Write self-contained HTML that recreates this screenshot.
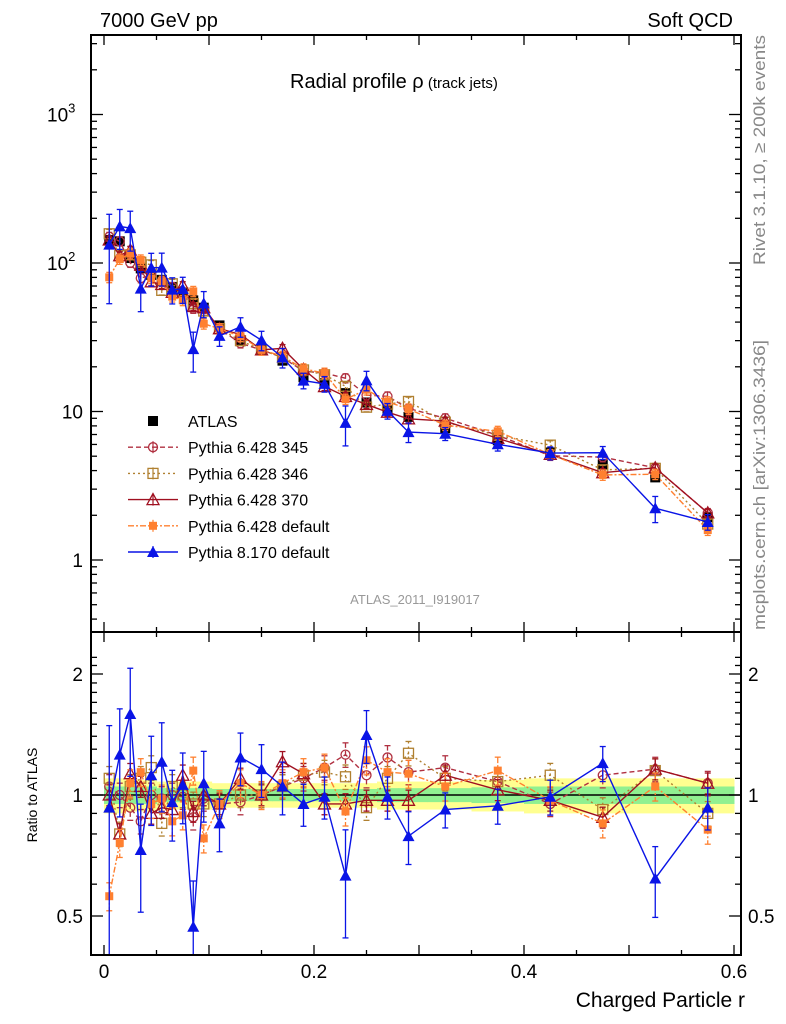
<!DOCTYPE html>
<html><head><meta charset="utf-8"><style>
html,body{margin:0;padding:0;background:#fff;width:786px;height:1024px;overflow:hidden}
svg{display:block;font-family:"Liberation Sans",sans-serif}
</style></head><body>
<svg id="chart" width="786" height="1024" viewBox="0 0 786 1024"></svg>
<script>
const rVals=[0.005,0.015,0.025,0.035,0.045,0.055,0.065,0.075,0.085,0.095,0.11,0.13,0.15,0.17,0.19,0.21,0.23,0.25,0.27,0.29,0.325,0.375,0.425,0.475,0.525,0.575];
const atlas=[143,140,108,92,83,77,69,63,56,50,38,30,26,22,17,15.5,13.3,11.5,10.2,9.2,7.7,6.4,5.3,4.4,3.6,1.94];
const ratio345=[1.05,1.0,0.93,0.86,1.0,0.98,1.0,0.99,0.88,0.98,0.95,0.96,1.0,1.05,1.1,1.17,1.26,1.12,1.24,1.14,1.17,1.08,0.95,1.12,1.16,1.07];
const ratio346=[1.1,0.8,1.05,1.1,1.17,0.85,1.05,1.0,0.95,0.95,0.95,1.0,1.0,1.05,1.12,1.14,1.11,0.93,1.1,1.27,1.1,1.08,1.12,0.92,1.15,0.9];
const ratio370=[1.0,0.8,1.13,1.05,0.9,0.93,0.92,1.12,0.91,1.0,0.95,1.1,1.0,1.21,1.13,0.95,0.95,0.97,0.97,0.97,1.12,1.03,0.97,0.88,1.16,1.07];
const ratioP6def=[0.56,0.76,1.07,1.14,0.95,0.98,0.86,0.89,1.15,0.78,0.95,1.07,1.0,1.07,1.14,1.17,0.91,1.22,1.14,1.13,1.05,1.15,0.97,0.85,1.05,0.82];
const ratioP8=[0.93,1.26,1.59,0.73,1.12,1.21,0.96,1.06,0.47,1.07,0.85,1.24,1.16,1.05,0.95,0.99,0.63,1.41,0.99,0.79,0.92,0.94,0.99,1.2,0.62,0.93];
const errP8=[0.6,0.3,0.3,0.3,0.25,0.25,0.2,0.2,0.3,0.2,0.15,0.15,0.15,0.15,0.12,0.12,0.3,0.15,0.12,0.15,0.1,0.1,0.1,0.1,0.2,0.12];
const bandYellow=[0.1,0.1,0.09,0.09,0.09,0.08,0.08,0.08,0.08,0.08,0.07,0.07,0.07,0.07,0.07,0.07,0.07,0.07,0.08,0.08,0.08,0.09,0.1,0.1,0.1,0.1];
const bandGreen=[0.05,0.05,0.05,0.05,0.05,0.04,0.04,0.04,0.04,0.04,0.035,0.035,0.035,0.035,0.035,0.035,0.035,0.035,0.04,0.04,0.04,0.045,0.05,0.05,0.05,0.05];
const xTicks=[0,0.2,0.4,0.6];

const NS="http://www.w3.org/2000/svg";
const svg=document.getElementById('chart');
const L=91,R=741,T1=35,B1=632,B2=955;
const X=r=>104+r*1050;
const Ym=v=>560-Math.log10(v)*148.5;
const Yr=v=>795-Math.log2(v)*121;
function el(tag,attrs,parent){const e=document.createElementNS(NS,tag);for(const k in attrs)e.setAttribute(k,attrs[k]);(parent||svg).appendChild(e);return e;}
function txt(x,y,s,size,attrs,parent){const t=el('text',Object.assign({x:x,y:y,'font-size':size},attrs||{}),parent);t.textContent=s;return t;}

const defs=el('defs',{});
const c1=el('clipPath',{id:'c1'},defs);el('rect',{x:L,y:T1,width:R-L,height:B1-T1},c1);
const c2=el('clipPath',{id:'c2'},defs);el('rect',{x:L,y:B1,width:R-L,height:B2-B1},c2);

const bands=el('g',{'clip-path':'url(#c2)'});


function edges(i){const lo=i==0?0:(rVals[i-1]+rVals[i])/2;const hi=i==rVals.length-1?0.6:(rVals[i]+rVals[i+1])/2;return [lo,hi];}
for(let i=0;i<rVals.length;i++){const [a,b]=edges(i);
 el('rect',{x:X(a),y:Yr(1+bandYellow[i]),width:X(b)-X(a)+0.5,height:Yr(1-bandYellow[i])-Yr(1+bandYellow[i]),fill:'#ffff90'},bands);}
for(let i=0;i<rVals.length;i++){const [a,b]=edges(i);
 el('rect',{x:X(a),y:Yr(1+bandGreen[i]),width:X(b)-X(a)+0.5,height:Yr(1-bandGreen[i])-Yr(1+bandGreen[i]),fill:'#90f090'},bands);}
el('line',{x1:L,x2:R,y1:Yr(1),y2:Yr(1),stroke:'#000','stroke-width':1.5},bands);

const series=[
 {name:'pythia6-345',ratio:ratio345,color:'#b03040',dash:'5,3',marker:'circle',err:0.07,label:'Pythia 6.428 345'},
 {name:'pythia6-346',ratio:ratio346,color:'#b08030',dash:'2,3',marker:'osquare',err:0.07,label:'Pythia 6.428 346'},
 {name:'pythia6-370',ratio:ratio370,color:'#a01020',dash:'',marker:'otri',err:0.06,label:'Pythia 6.428 370'},
 {name:'pythia6-default',ratio:ratioP6def,color:'#ff8030',dash:'6,2,2,2',marker:'fsquare',err:0.08,label:'Pythia 6.428 default'},
 {name:'pythia8-default',ratio:ratioP8,color:'#0a14e6',dash:'',marker:'ftri',err:null,label:'Pythia 8.170 default'}
];
function marker(m,x,y,color,g){
 if(m==='circle')return el('circle',{cx:x,cy:y,r:4.5,fill:'none',stroke:color,'stroke-width':1.3},g);
 if(m==='osquare')return el('rect',{x:x-5,y:y-5,width:10,height:10,fill:'none',stroke:color,'stroke-width':1.3},g);
 if(m==='fsquare')return el('rect',{x:x-4,y:y-4,width:8,height:8,fill:color},g);
 if(m==='bsquare')return el('rect',{x:x-5,y:y-5,width:10,height:10,fill:'#000'},g);
 if(m==='otri')return el('polygon',{points:`${x},${y-6} ${x-6},${y+5} ${x+6},${y+5}`,fill:'none',stroke:color,'stroke-width':1.3},g);
 if(m==='ftri')return el('polygon',{points:`${x},${y-6} ${x-6},${y+5} ${x+6},${y+5}`,fill:color},g);
}
function drawSeries(s,panel){
 const g=el('g',{'clip-path':panel==='main'?'url(#c1)':'url(#c2)'});
 
 
 const ys=rVals.map((r,i)=>panel==='main'?Ym(atlas[i]*s.ratio[i]):Yr(s.ratio[i]));
 const pts=rVals.map((r,i)=>X(r)+','+ys[i]).join(' ');
 const line=el('polyline',{points:pts,fill:'none',stroke:s.color,'stroke-width':1.4,'stroke-dasharray':s.dash},g);
 
 
 for(let i=0;i<rVals.length;i++){
  const e=s.err===null?errP8[i]:s.err;
  const v=panel==='main'?atlas[i]*s.ratio[i]:s.ratio[i];
  const f=panel==='main'?Ym:Yr;
  const y1=f(v*(1+e)),y2=f(Math.max(v*(1-e),0.01));
  const x=X(rVals[i]);
  el('line',{x1:x,x2:x,y1:y1,y2:y2,stroke:s.color,'stroke-width':1.3,'stroke-dasharray':s.dash},g);
  el('line',{x1:x-3,x2:x+3,y1:y1,y2:y1,stroke:s.color,'stroke-width':1.3},g);
  el('line',{x1:x-3,x2:x+3,y1:y2,y2:y2,stroke:s.color,'stroke-width':1.3},g);
  const m=marker(s.marker,x,ys[i],s.color,g);
  
  
 }
}
const ag=el('g',{'clip-path':'url(#c1)'});


for(let i=0;i<rVals.length;i++){const m=marker('bsquare',X(rVals[i]),Ym(atlas[i]),'#000',ag);
 
 }
series.forEach(s=>{drawSeries(s,'main');drawSeries(s,'ratio');});

const f1=el('rect',{x:L,y:T1,width:R-L,height:B1-T1,fill:'none',stroke:'#000','stroke-width':2});

const f2=el('rect',{x:L,y:B1,width:R-L,height:B2-B1,fill:'none',stroke:'#000','stroke-width':2});


const tg=el('g',{stroke:'#000','stroke-width':1.3});

for(let k=0;k<=12;k++){const r=k*0.05;const x=X(r);const len=(k%2==0)?10:5;
 [[T1,1],[B1,-1],[B1,1],[B2,-1]].forEach(([y,d])=>el('line',{x1:x,x2:x,y1:y,y2:y+d*len},tg));}
xTicks.forEach(t=>{const l=txt(X(t),978,t===0?'0':String(t),19,{'text-anchor':'middle'});
 });

const yg=el('g',{stroke:'#000','stroke-width':1.3});

for(let d=-1;d<=3;d++)for(let m=1;m<=9;m++){const v=m*Math.pow(10,d);const y=Ym(v);if(y<T1||y>B1)continue;
 const len=m===1?12:6;el('line',{x1:L,x2:L+len,y1:y,y2:y},yg);el('line',{x1:R,x2:R-len,y1:y,y2:y},yg);}
[[1000,'10','3'],[100,'10','2'],[10,'10',''],[1,'1','']].forEach(([v,b,e])=>{
 const t=txt(83,Ym(v)+7,b,19,{'text-anchor':e?'start':'end'});
 if(e){t.setAttribute('x',47);const ts=document.createElementNS(NS,'tspan');ts.setAttribute('dy','-9');ts.setAttribute('font-size','13');ts.textContent=e;t.appendChild(ts);}
 });
const rg=el('g',{stroke:'#000','stroke-width':1.3});

for(let k=4;k<=22;k++){const v=k/10;const y=Yr(v);if(y<B1||y>B2)continue;
 const len=(k===5||k===10||k===20)?12:6;el('line',{x1:L,x2:L+len,y1:y,y2:y},rg);el('line',{x1:R,x2:R-len,y1:y,y2:y},rg);}
[[2,'2'],[1,'1'],[0.5,'0.5']].forEach(([v,s])=>{
 const a=txt(83,Yr(v)+7,s,19,{'text-anchor':'end'});
 const b=txt(748,Yr(v)+7,s,19,{'text-anchor':'start'});});

let t;
t=txt(100,27,'7000 GeV pp',20);
t=txt(733,27,'Soft QCD',20,{'text-anchor':'end'});
t=txt(290,88,'Radial profile ',20);const ts1=document.createElementNS(NS,'tspan');ts1.textContent='ρ';t.appendChild(ts1);
const ts2=document.createElementNS(NS,'tspan');ts2.setAttribute('font-size','15');ts2.textContent=' (track jets)';t.appendChild(ts2);

t=txt(415,604,'ATLAS_2011_I919017',13,{'text-anchor':'middle',fill:'#999'});
t=txt(745,1007,'Charged Particle r',21,{'text-anchor':'end'});
t=txt(0,0,'Ratio to ATLAS',14,{transform:'translate(37,795) rotate(-90)','text-anchor':'middle'});
t=txt(0,0,'Rivet 3.1.10, ≥ 200k events',17,{transform:'translate(765,265) rotate(-90)',fill:'#888',textLength:230,lengthAdjust:'spacingAndGlyphs'});
t=txt(0,0,'mcplots.cern.ch [arXiv:1306.3436]',17,{transform:'translate(765,630) rotate(-90)',fill:'#888',textLength:290,lengthAdjust:'spacingAndGlyphs'});

const lg=el('g',{});
const ly0=421,ldy=26.2;
const le0=el('g',{},lg);
marker('bsquare',153,ly0,'#000',le0);txt(188,ly0+6,'ATLAS',16,{},le0);
series.forEach((s,i)=>{const y=ly0+ldy*(i+1);const g=el('g',{},lg);
 
 el('line',{x1:128,x2:178,y1:y,y2:y,stroke:s.color,'stroke-width':1.4,'stroke-dasharray':s.dash},g);
 el('line',{x1:153,x2:153,y1:y-6,y2:y+6,stroke:s.color,'stroke-width':1.2},g);
 marker(s.marker,153,y,s.color,g);txt(188,y+6,s.label,16,{},g);});
</script>
</body></html>
